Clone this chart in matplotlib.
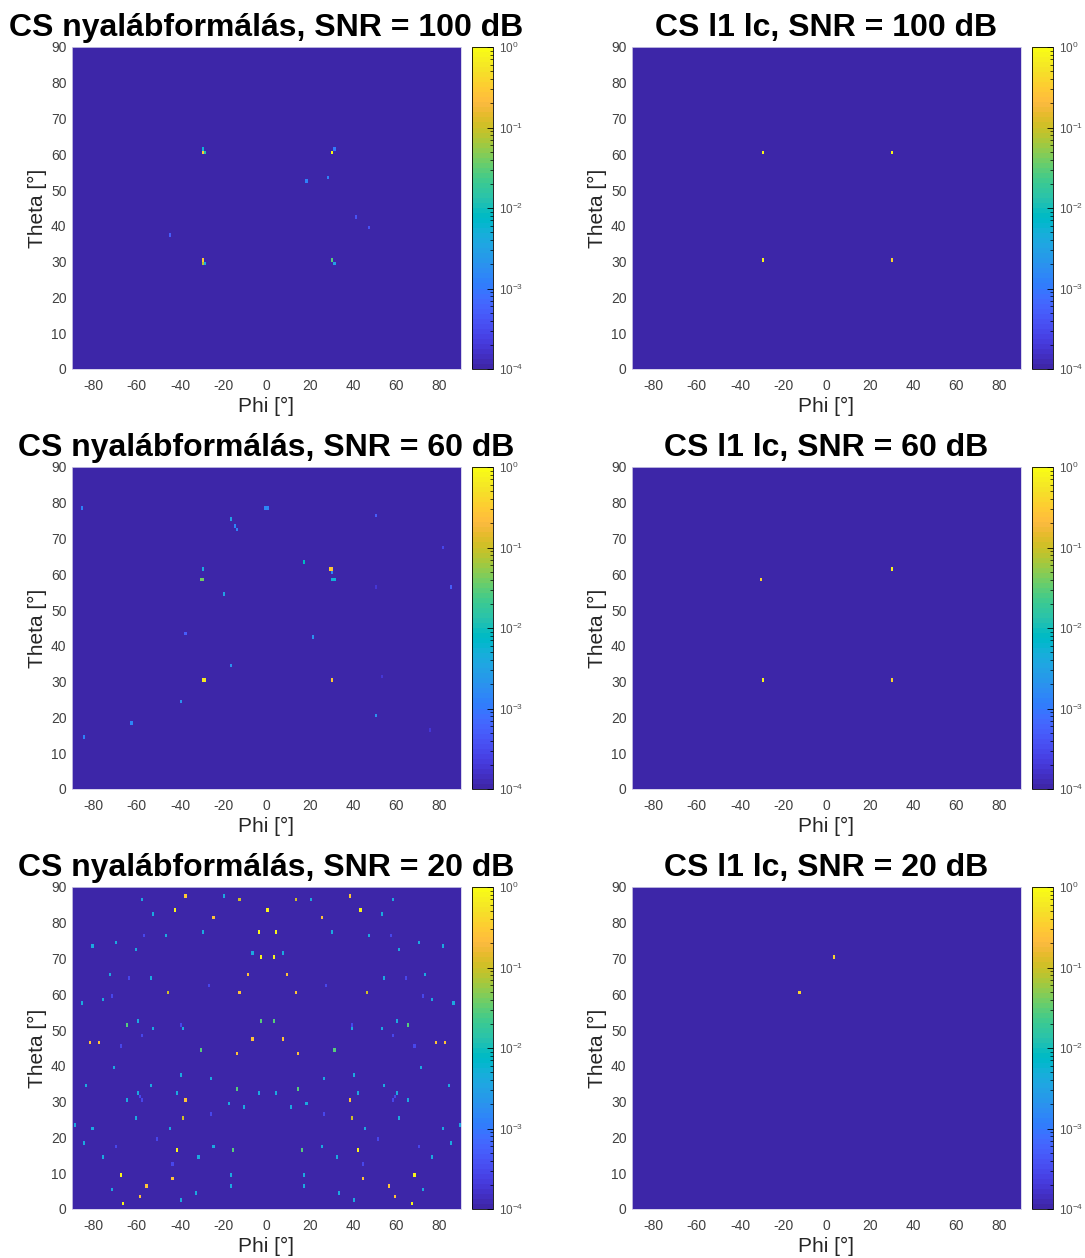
import numpy as np
import matplotlib
matplotlib.use("Agg")
import matplotlib.pyplot as plt
from matplotlib.colors import ListedColormap, LogNorm

# MATLAB parula(64)
PARULA = [
    [0.2422, 0.1504, 0.6603], [0.2504, 0.1650, 0.7076], [0.2578, 0.1818, 0.7511], [0.2647, 0.1978, 0.7952],
    [0.2706, 0.2147, 0.8364], [0.2751, 0.2342, 0.8710], [0.2783, 0.2559, 0.8991], [0.2803, 0.2782, 0.9221],
    [0.2813, 0.3006, 0.9414], [0.2810, 0.3228, 0.9579], [0.2795, 0.3447, 0.9717], [0.2760, 0.3667, 0.9829],
    [0.2699, 0.3892, 0.9906], [0.2602, 0.4123, 0.9952], [0.2440, 0.4358, 0.9988], [0.2206, 0.4603, 0.9973],
    [0.1963, 0.4847, 0.9892], [0.1834, 0.5074, 0.9798], [0.1786, 0.5289, 0.9682], [0.1764, 0.5499, 0.9520],
    [0.1687, 0.5703, 0.9359], [0.1540, 0.5902, 0.9218], [0.1460, 0.6091, 0.9079], [0.1380, 0.6276, 0.8973],
    [0.1248, 0.6459, 0.8883], [0.1113, 0.6635, 0.8763], [0.0952, 0.6798, 0.8598], [0.0689, 0.6948, 0.8394],
    [0.0297, 0.7082, 0.8163], [0.0036, 0.7203, 0.7917], [0.0067, 0.7312, 0.7660], [0.0433, 0.7411, 0.7394],
    [0.0964, 0.7500, 0.7120], [0.1408, 0.7584, 0.6842], [0.1717, 0.7670, 0.6554], [0.1938, 0.7758, 0.6251],
    [0.2161, 0.7843, 0.5923], [0.2470, 0.7918, 0.5567], [0.2906, 0.7973, 0.5188], [0.3406, 0.8008, 0.4789],
    [0.3909, 0.8029, 0.4354], [0.4456, 0.8024, 0.3909], [0.5044, 0.7993, 0.3480], [0.5616, 0.7942, 0.3045],
    [0.6174, 0.7876, 0.2612], [0.6720, 0.7793, 0.2227], [0.7242, 0.7698, 0.1910], [0.7738, 0.7598, 0.1646],
    [0.8203, 0.7498, 0.1535], [0.8634, 0.7406, 0.1596], [0.9035, 0.7330, 0.1774], [0.9393, 0.7288, 0.2100],
    [0.9728, 0.7298, 0.2394], [0.9956, 0.7434, 0.2371], [0.9970, 0.7659, 0.2199], [0.9952, 0.7893, 0.2028],
    [0.9892, 0.8136, 0.1885], [0.9786, 0.8386, 0.1766], [0.9676, 0.8639, 0.1643], [0.9610, 0.8890, 0.1537],
    [0.9597, 0.9135, 0.1423], [0.9628, 0.9373, 0.1265], [0.9691, 0.9606, 0.1064], [0.9769, 0.9839, 0.0805],
]
parula = ListedColormap(PARULA, name="parula")

# grid: phi -90..89, theta 0..89 (1 degree cells)
phi_min, phi_max = -90, 90
theta_min, theta_max = 0, 90
floor_level = 1e-6

# (phi, theta, power) of the non-empty cells
bf_100 = [
    (-30, 61, 5e-3), (-30, 60, 0.35), (-29, 60, 0.015), (31, 61, 1e-3), (30, 60, 0.9),
    (18, 52, 1.2e-3), (28, 53, 1.2e-3), (41, 42, 4e-4), (47, 39, 4e-4), (-45, 37, 5e-4),
    (-30, 30, 0.3), (-30, 29, 0.08), (-29, 29, 4e-3), (30, 30, 0.03), (31, 29, 3e-3),
]
bf_60 = [
    (-86, 78, 1.2e-3), (-1, 78, 1.5e-3), (0, 78, 1.5e-3), (50, 76, 5e-4), (-17, 75, 3e-3),
    (-15, 73, 1.5e-3), (-14, 72, 1.2e-3), (81, 67, 3e-4), (17, 63, 8e-3), (-30, 61, 4e-3),
    (29, 61, 0.3), (30, 61, 0.25), (30, 60, 1.5e-3), (-31, 58, 0.04), (-30, 58, 0.04),
    (30, 58, 5e-3), (31, 58, 5e-3), (50, 56, 2e-4), (85, 56, 5e-4), (-20, 54, 3e-3),
    (-38, 43, 5e-4), (21, 42, 2e-3), (-17, 34, 2e-3), (-30, 30, 0.6), (-29, 30, 0.6),
    (30, 30, 0.3), (53, 31, 2e-4), (-40, 24, 2e-3), (-63, 18, 1.5e-3), (50, 20, 2e-3),
    (-85, 14, 1.2e-3), (75, 16, 1.8e-4),
]
bf_20 = [
    (-38, 87, 0.3), (-20, 87, 4e-3), (38, 87, 0.3),
    (-58, 86, 4e-3), (-13, 86, 0.1), (13, 86, 0.1), (20, 86, 4e-3), (58, 86, 4e-3),
    (-43, 83, 0.8), (0, 83, 0.8), (43, 83, 0.8),
    (-53, 82, 4e-3), (53, 82, 4e-3),
    (-25, 81, 0.25), (25, 81, 0.25),
    (-30, 77, 4e-3), (-4, 77, 0.8), (4, 77, 0.8), (30, 77, 4e-3),
    (-57, 76, 3e-4), (-47, 76, 4e-3), (47, 76, 4e-3), (57, 76, 3e-4),
    (-70, 74, 4e-3), (70, 74, 4e-3),
    (-81, 73, 4e-3), (81, 73, 4e-3),
    (-61, 72, 4e-3), (61, 72, 4e-3),
    (-7, 71, 4e-3), (7, 71, 4e-3),
    (-3, 70, 0.8), (3, 70, 0.8),
    (-73, 65, 4e-3), (-9, 65, 0.25), (9, 65, 0.25), (73, 65, 4e-3),
    (-64, 64, 3e-4), (-54, 64, 4e-3), (54, 64, 4e-3), (64, 64, 3e-4),
    (-27, 62, 3e-4), (27, 62, 3e-4),
    (-46, 60, 0.1), (-13, 60, 0.25), (13, 60, 0.25), (46, 60, 0.1),
    (-72, 59, 3e-4), (72, 59, 3e-4),
    (-76, 58, 4e-3), (76, 58, 4e-3),
    (-86, 57, 4e-3), (86, 57, 4e-3),
    (-60, 52, 4e-3), (-3, 52, 0.03), (3, 52, 0.03), (60, 52, 4e-3),
    (-65, 51, 0.03), (-40, 51, 3e-4), (39, 51, 3e-4), (65, 51, 0.03),
    (-53, 50, 4e-3), (-39, 50, 4e-3), (39, 50, 4e-3), (53, 50, 4e-3),
    (-58, 48, 3e-4), (58, 48, 3e-4),
    (-7, 47, 0.25), (7, 47, 0.25),
    (-82, 46, 0.25), (-78, 46, 0.25), (78, 46, 0.25), (82, 46, 0.25),
    (-68, 45, 3e-4), (68, 45, 3e-4),
    (-31, 44, 0.03), (31, 44, 0.03),
    (-14, 43, 0.25), (14, 43, 0.25),
    (-71, 39, 4e-3), (71, 39, 4e-3),
    (-40, 37, 4e-3), (40, 37, 4e-3),
    (-26, 36, 4e-3), (26, 36, 4e-3),
    (-84, 34, 4e-3), (-54, 34, 4e-3), (54, 34, 4e-3), (84, 34, 4e-3),
    (-14, 33, 0.03), (14, 33, 0.03),
    (-60, 32, 4e-3), (-42, 32, 4e-3), (-4, 32, 4e-3), (4, 32, 4e-3), (42, 32, 4e-3), (60, 32, 4e-3),
    (-59, 31, 3e-4), (59, 31, 3e-4),
    (-65, 30, 4e-3), (-58, 30, 3e-4), (-38, 30, 0.25), (38, 30, 0.25), (58, 30, 3e-4), (65, 30, 4e-3),
    (-18, 29, 4e-3), (18, 29, 4e-3),
    (-11, 28, 4e-3), (11, 28, 4e-3),
    (-26, 26, 3e-4), (26, 26, 3e-4),
    (-61, 25, 4e-3), (-39, 25, 0.1), (39, 25, 0.1), (61, 25, 4e-3),
    (-89, 23, 4e-3), (89, 23, 4e-3),
    (-81, 22, 4e-3), (-45, 22, 4e-3), (45, 22, 4e-3), (81, 22, 4e-3),
    (-51, 19, 3e-4), (51, 19, 3e-4),
    (-85, 18, 4e-3), (85, 18, 4e-3),
    (-70, 17, 3e-4), (-25, 17, 4e-3), (25, 17, 4e-3), (70, 17, 3e-4),
    (-42, 16, 0.8), (-16, 16, 0.03), (16, 16, 0.03), (42, 16, 0.8),
    (-76, 14, 4e-3), (-32, 14, 4e-3), (32, 14, 4e-3), (76, 14, 4e-3),
    (-44, 12, 3e-4), (44, 12, 3e-4),
    (-68, 9, 0.8), (-17, 9, 4e-3), (17, 9, 4e-3), (68, 9, 0.8),
    (-44, 8, 0.25), (44, 8, 0.25),
    (-56, 6, 0.25), (-17, 6, 4e-3), (17, 6, 4e-3), (56, 6, 0.25),
    (-72, 5, 4e-3), (72, 5, 4e-3),
    (-33, 4, 4e-3), (33, 4, 4e-3),
    (-59, 3, 0.25), (59, 3, 0.25),
    (-40, 2, 4e-3), (40, 2, 4e-3),
    (-67, 1, 0.8), (67, 1, 0.8),
]
l1_100 = [(-30, 60, 0.8), (30, 60, 0.8), (-30, 30, 0.8), (30, 30, 0.4)]
l1_60 = [(-31, 58, 0.4), (30, 61, 0.8), (-30, 30, 0.8), (30, 30, 0.4)]
l1_20 = [(3, 70, 0.4), (-13, 60, 0.4)]

panels = [
    ("CS nyalábformálás, SNR = 100 dB", bf_100), ("CS l1 lc, SNR = 100 dB", l1_100),
    ("CS nyalábformálás, SNR = 60 dB", bf_60), ("CS l1 lc, SNR = 60 dB", l1_60),
    ("CS nyalábformálás, SNR = 20 dB", bf_20), ("CS l1 lc, SNR = 20 dB", l1_20),
]

plt.rcParams["font.family"] = ["Liberation Sans", "DejaVu Sans"]
plt.rcParams["axes.unicode_minus"] = False

W, H = 1085, 1258
fig = plt.figure(figsize=(W / 100, H / 100), dpi=100)

col_x = [72, 632]
row_top = [47, 467, 887]
ax_w, ax_h = 389, 322
cb_off, cb_w = 400, 21

norm = LogNorm(vmin=1e-4, vmax=1)
for k, (title, pts) in enumerate(panels):
    r, c = divmod(k, 2)
    x0, y0 = col_x[c], row_top[r]
    ax = fig.add_axes([x0 / W, 1 - (y0 + ax_h) / H, ax_w / W, ax_h / H])
    grid = np.full((theta_max - theta_min, phi_max - phi_min), floor_level)
    for p, t, v in pts:
        grid[t - theta_min, p - phi_min] = v
    im = ax.imshow(grid, extent=(phi_min, phi_max, theta_min, theta_max), origin="lower",
                   aspect="auto", cmap=parula, norm=norm, interpolation="nearest")
    ax.set_xticks(range(-80, 81, 20))
    ax.set_yticks(range(0, 91, 10))
    ax.tick_params(length=0, labelsize=10, colors="#404040")
    ax.tick_params(axis="x", pad=7)
    ax.tick_params(axis="y", pad=4)
    for s in ax.spines.values():
        s.set_color("#d0cce8")
        s.set_linewidth(0.6)
    ax.set_xlabel("Phi [°]", fontsize=15, color="#262626", labelpad=3)
    ax.set_ylabel("Theta [°]", fontsize=15, color="#262626", labelpad=3)
    ax.set_title(title, fontsize=23, fontweight="bold", pad=8)

    cax = fig.add_axes([(x0 + cb_off) / W, 1 - (y0 + ax_h) / H, cb_w / W, ax_h / H])
    cb = fig.colorbar(im, cax=cax)
    cb.set_ticks([1e-4, 1e-3, 1e-2, 1e-1, 1])
    cb.outline.set_linewidth(0.6)
    cax.tick_params(which="major", direction="in", length=4, width=0.6, labelsize=8.5,
                    labelcolor="#505050", pad=4)
    cax.tick_params(which="minor", direction="in", length=2, width=0.5)

fig.savefig("out.png", dpi=100)
